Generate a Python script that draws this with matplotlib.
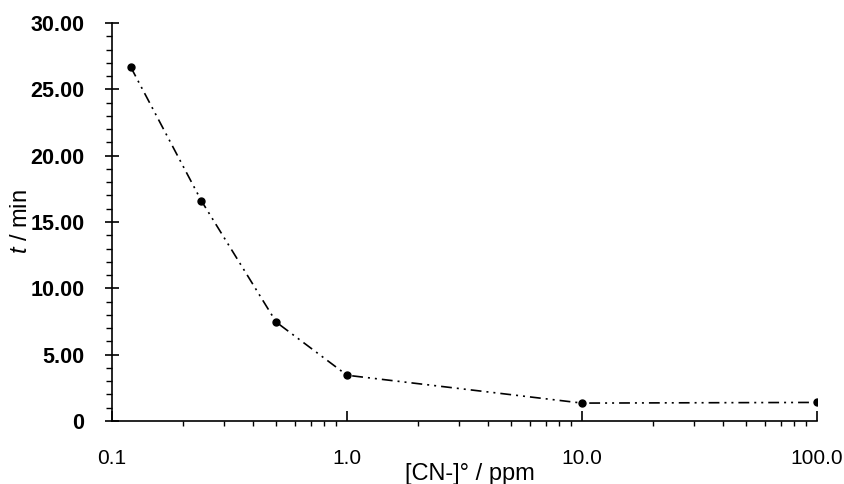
import matplotlib
matplotlib.use("Agg")
import matplotlib.pyplot as plt
from matplotlib.ticker import FixedLocator, FixedFormatter, LogLocator, NullFormatter, MultipleLocator

plt.rcParams['font.family'] = ['Liberation Sans', 'DejaVu Sans']
plt.rcParams['mathtext.fontset'] = 'custom'
plt.rcParams['mathtext.it'] = 'Liberation Sans:italic'
plt.rcParams['mathtext.rm'] = 'Liberation Sans'

# data
conc_ppm = [0.12, 0.24, 0.5, 1.0, 10.0, 100.0]
time_min = [26.7, 16.6, 7.45, 3.45, 1.35, 1.4]

x_ticks = [0.1, 1.0, 10.0, 100.0]
x_ticklabels = ["0.1", "1.0", "10.0", "100.0"]
y_ticks = [0, 5, 10, 15, 20, 25, 30]
y_ticklabels = ["0", "5.00", "10.00", "15.00", "20.00", "25.00", "30.00"]

W, H = 845, 484
fig = plt.figure(figsize=(W / 100, H / 100), dpi=100)
left, right, bottom, top = 112, 817, 421, 23
ax = fig.add_axes([left / W, 1 - bottom / H, (right - left) / W, (bottom - top) / H])

ax.plot(conc_ppm, time_min, color='black', lw=1.2,
        linestyle=(0, (6.5, 3, 1.2, 3, 1.2, 3)),
        marker='o', markersize=5, markerfacecolor='black', markeredgecolor='black')

ax.set_xscale('log')
ax.set_xlim(0.1, 100)
ax.set_ylim(0, 30)

for s in ['top', 'right']:
    ax.spines[s].set_visible(False)
for s in ['left', 'bottom']:
    ax.spines[s].set_linewidth(1.2)

ax.xaxis.set_major_locator(FixedLocator(x_ticks))
ax.xaxis.set_major_formatter(FixedFormatter(x_ticklabels))
ax.xaxis.set_minor_locator(LogLocator(base=10, subs=range(2, 10)))
ax.xaxis.set_minor_formatter(NullFormatter())

ax.yaxis.set_major_locator(FixedLocator(y_ticks))
ax.yaxis.set_major_formatter(FixedFormatter(y_ticklabels))
ax.yaxis.set_minor_locator(MultipleLocator(1))

ax.tick_params(axis='x', which='major', direction='in', length=7, width=1.2,
               pad=20.5, labelsize=15)
ax.tick_params(axis='x', which='minor', direction='out', length=3.5, width=1.0)
ax.tick_params(axis='y', which='major', direction='inout', length=10.5, width=1.2,
               pad=14.5, labelsize=15.5)
ax.tick_params(axis='y', which='minor', direction='out', length=4, width=1.0)
for lab in ax.get_yticklabels():
    lab.set_fontweight('bold')

ax.set_xlabel("[CN-]° / ppm", fontsize=17)
ax.xaxis.set_label_coords((470 - left) / (right - left), (bottom - 474) / (bottom - top))
ax.xaxis.label.set_va('center')
ax.set_ylabel("$t$ / min", fontsize=17)
ax.yaxis.set_label_coords((21 - left) / (right - left), 0.5)
ax.yaxis.label.set_va('center')

fig.savefig("out.png", dpi=100)
